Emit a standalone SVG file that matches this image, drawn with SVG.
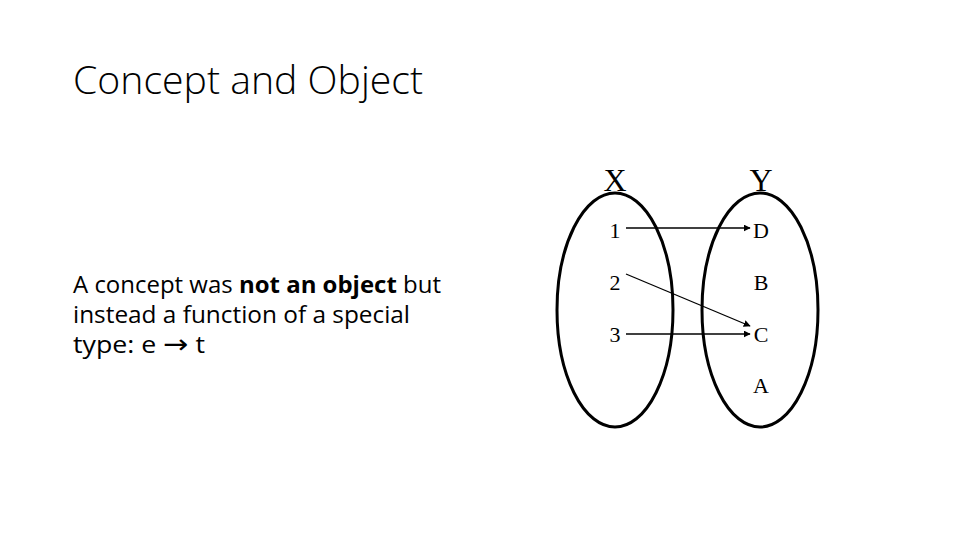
<svg xmlns="http://www.w3.org/2000/svg" width="960" height="540" viewBox="0 0 960 540">
<style>
.t{font-family:"Open Sans","Liberation Sans",Arial,sans-serif;fill:#000}
.s{font-family:"Liberation Serif","Times New Roman",serif;fill:#000}
.e{fill:none;stroke:#000;stroke-width:3}
.c{stroke:#000;stroke-width:1.3;fill:none;marker-end:url(#ah)}
</style>
<defs>
<marker id="ah" viewBox="0 0 10 10" refX="9" refY="5" markerWidth="7" markerHeight="7" markerUnits="userSpaceOnUse" orient="auto">
<path d="M0,0 L10,5 L0,10 z" fill="#000"/>
</marker>
</defs>
<rect width="960" height="540" fill="#fff"/>
<text class="t" x="73" y="94" font-size="38" font-weight="300" textLength="350" lengthAdjust="spacingAndGlyphs">Concept and Object</text>
<g id="body">
<text class="t" x="73" y="293" font-size="23" textLength="368" lengthAdjust="spacingAndGlyphs">A concept was <tspan font-weight="bold">not an object</tspan> but</text>
<text class="t" x="73" y="323" font-size="23" textLength="337" lengthAdjust="spacingAndGlyphs">instead a function of a special</text>
<text class="t" x="73" y="353" font-size="23" textLength="132" lengthAdjust="spacingAndGlyphs">type: e <tspan font-family="DejaVu Sans, sans-serif" font-size="26">→</tspan> t</text>
</g>
<g id="setX">
<ellipse class="e" cx="615" cy="310" rx="58" ry="117"/>
<text class="s" x="615" y="191" font-size="32" text-anchor="middle">X</text>
</g>
<g id="setY">
<ellipse class="e" cx="760" cy="310" rx="58" ry="117"/>
<text class="s" x="761" y="191" font-size="32" text-anchor="middle">Y</text>
</g>
<g id="n1"><text class="s" x="615" y="238" font-size="22" text-anchor="middle">1</text></g>
<g id="n2"><text class="s" x="615" y="290" font-size="22" text-anchor="middle">2</text></g>
<g id="n3"><text class="s" x="615" y="342" font-size="22" text-anchor="middle">3</text></g>
<g id="nD"><text class="s" x="761" y="238" font-size="22" text-anchor="middle">D</text></g>
<g id="nB"><text class="s" x="761" y="290" font-size="22" text-anchor="middle">B</text></g>
<g id="nC"><text class="s" x="761" y="342" font-size="22" text-anchor="middle">C</text></g>
<g id="nA"><text class="s" x="761" y="393" font-size="22" text-anchor="middle">A</text></g>
<g id="connectors">
<line class="c" x1="626" y1="228" x2="750" y2="228"/>
<line class="c" x1="626" y1="274" x2="750" y2="326"/>
<line class="c" x1="626" y1="334" x2="750" y2="334"/>
</g>
</svg>
